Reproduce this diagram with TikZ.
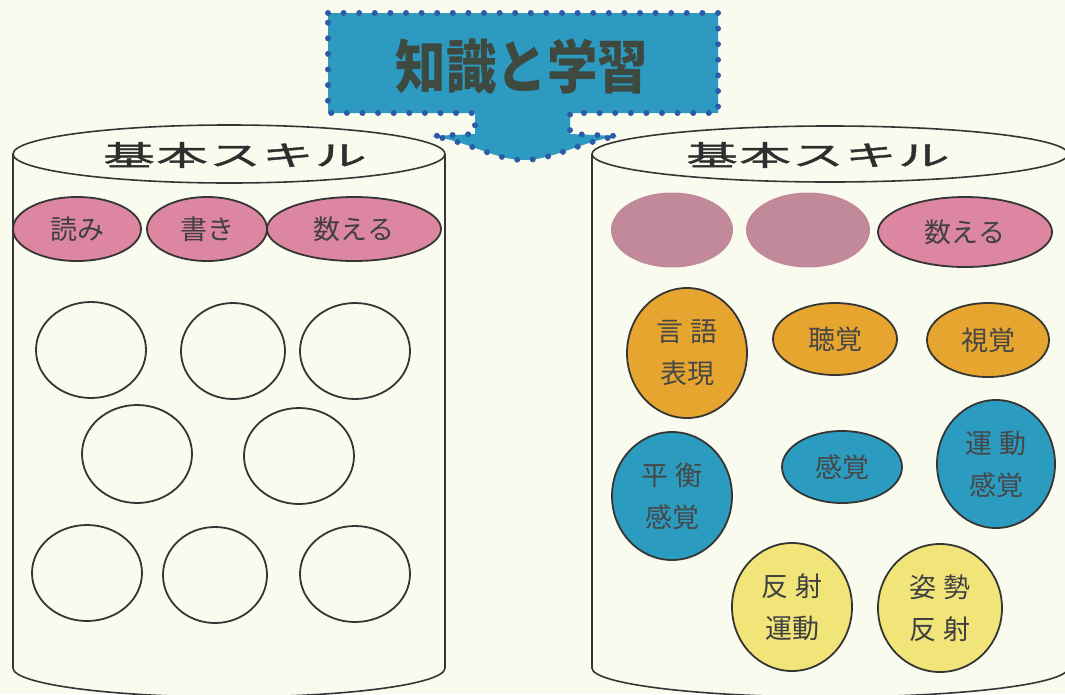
\documentclass[tikz,border=0pt]{standalone}
\usepackage{fontspec}
\usetikzlibrary{shapes.geometric}
\newfontfamily\cjk{Noto Sans CJK JP}
\newfontfamily\cjkwide[FakeStretch=1.85, LetterSpace=4, FakeBold=1.2]{Noto Sans CJK JP}
\newfontfamily\cjknarrow[FakeStretch=0.87]{Noto Sans CJK JP}
\definecolor{bgcol}{HTML}{FAFBEF}
\definecolor{linecol}{HTML}{353535}
\definecolor{pinkcol}{HTML}{DC86A2}
\definecolor{mauvecol}{HTML}{C2899A}
\definecolor{orangecol}{HTML}{E6A52E}
\definecolor{bluecol}{HTML}{2C9BC0}
\definecolor{yellowcol}{HTML}{F1E57A}
\definecolor{bannercol}{HTML}{2D9AC2}
\definecolor{dotcol}{HTML}{2A5CA8}
\definecolor{bannertext}{HTML}{3E4A40}
\tikzset{
  cyl/.style={draw=linecol, line width=1.6pt},
  blob/.style={ellipse, draw=linecol, line width=1.8pt, inner sep=0pt, align=center,
    font=\cjk\fontsize{27}{42}\selectfont},
  pinkE/.style={blob, fill=pinkcol, text=black!75},
  mauveE/.style={ellipse, fill=mauvecol, inner sep=0pt},
  emptyE/.style={blob, fill=none},
  orangeE/.style={blob, fill=orangecol, text=black!72},
  blueE/.style={blob, fill=bluecol, text=black!72},
  yellowE/.style={blob, fill=yellowcol, text=black!75},
  title/.style={font=\cjkwide\fontsize{28}{32}\selectfont, text=black!82, inner sep=0pt},
}
\begin{document}
\begin{tikzpicture}[x=1pt, y=-1pt]
\useasboundingbox (0,0) rectangle (1065,694);
\fill[bgcol] (0,0) rectangle (1065,694);
\clip (0,0) rectangle (1065,694);

% left cylinder
\draw[cyl, fill=bgcol] (13,154) -- (13,668)
  .. controls (13,684) and (110,697) .. (229,697)
  .. controls (348,697) and (445,684) .. (445,668) -- (445,154);
\draw[cyl, fill=bgcol] (229,154) ellipse [x radius=216, y radius=29];
\node[title] (tl) at (235,155) {基本スキル};

% right cylinder
\draw[cyl, fill=bgcol] (592,154) -- (592,668)
  .. controls (592,684) and (699,697) .. (830,697)
  .. controls (961,697) and (1068,684) .. (1068,668) -- (1068,154);
\draw[cyl, fill=bgcol] (830,154) ellipse [x radius=238, y radius=28];
\node[title] (tr) at (818,155) {基本スキル};

% banner with arrow
\path[fill=bannercol] (328,13) -- (718,13) -- (718,113) -- (570,113) -- (570,134)
  -- (618,136) .. controls (580,142) and (553,160) .. (524,160)
  .. controls (495,160) and (470,142) .. (432,136) -- (475,134) -- (475,113)
  -- (328,113) -- cycle;
\draw[dotcol, line width=6pt, line cap=round, dash pattern=on 0pt off 15.6pt]
  (328,13) -- (718,13) -- (718,113) -- (570,113) -- (570,134)
  -- (618,136) .. controls (580,142) and (553,160) .. (524,160)
  .. controls (495,160) and (470,142) .. (432,136) -- (475,134) -- (475,113)
  -- (328,113) -- cycle;
\node[font=\cjknarrow\bfseries\fontsize{58}{62}\selectfont, text=bannertext, inner sep=0pt]
  (banner) at (522,66) {知識と学習};

% left cylinder contents
\node[pinkE, minimum width=128pt, minimum height=64pt] (yomi) at (77,229) {読み};
\node[pinkE, minimum width=120pt, minimum height=64pt] (kaki) at (207,229) {書き};
\node[pinkE, minimum width=174pt, minimum height=64pt] (kazoeL) at (354,229) {数える};

\node[emptyE, minimum width=110pt, minimum height=96pt] (c1) at (91,350) {};
\node[emptyE, minimum width=104pt, minimum height=96pt] (c2) at (233,351) {};
\node[emptyE, minimum width=110pt, minimum height=96pt] (c3) at (355,351) {};
\node[emptyE, minimum width=110pt, minimum height=98pt] (c4) at (137,454) {};
\node[emptyE, minimum width=110pt, minimum height=96pt] (c5) at (299,456) {};
\node[emptyE, minimum width=110pt, minimum height=96pt] (c6) at (87,573) {};
\node[emptyE, minimum width=104pt, minimum height=96pt] (c7) at (215,575) {};
\node[emptyE, minimum width=110pt, minimum height=96pt] (c8) at (355,574) {};

% right cylinder contents
\node[mauveE, minimum width=122pt, minimum height=75pt] (m1) at (672,230) {};
\node[mauveE, minimum width=124pt, minimum height=75pt] (m2) at (808,230) {};
\node[pinkE, minimum width=174pt, minimum height=70pt] (kazoeR) at (965,232) {数える};

\node[orangeE, minimum width=120pt, minimum height=130pt] (gengo) at (687,353) {言\hspace{7pt}語\\表現};
\node[orangeE, minimum width=124pt, minimum height=72pt] (choukaku) at (835,339) {聴覚};
\node[orangeE, minimum width=122pt, minimum height=74pt] (shikaku) at (988,340) {視覚};

\node[blueE, minimum width=120pt, minimum height=128pt] (heikou) at (672,496) {平\hspace{7pt}衡\\感覚};
\node[blueE, minimum width=120pt, minimum height=72pt] (kankaku) at (842,467) {感覚};
\node[blueE, minimum width=118pt, minimum height=128pt] (undou) at (996,464) {運\hspace{7pt}動\\感覚};

\node[yellowE, minimum width=120pt, minimum height=128pt] (hansha) at (792,607) {反\hspace{7pt}射\\運動};
\node[yellowE, minimum width=124pt, minimum height=128pt] (shisei) at (940,608) {姿\hspace{7pt}勢\\反\hspace{7pt}射};
\end{tikzpicture}
\end{document}
